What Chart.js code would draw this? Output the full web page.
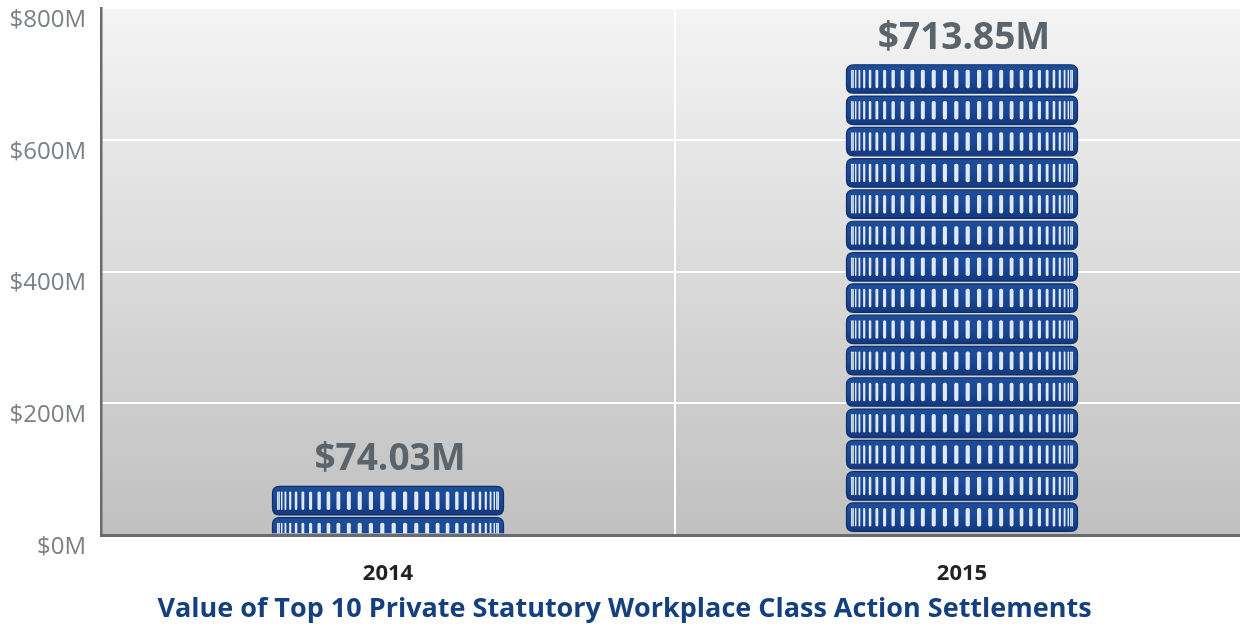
<!DOCTYPE html>
<html>
<head>
<meta charset="utf-8">
<script src="https://cdn.jsdelivr.net/npm/chart.js@4.4.1/dist/chart.umd.min.js"></script>
<style>
  html, body { margin: 0; padding: 0; background: #ffffff; overflow: hidden; }
  #wrap { position: relative; width: 1250px; height: 637px; }
</style>
</head>
<body>
<div id="wrap"><canvas id="c"></canvas></div>
<script>
const categories = ['2014', '2015'];
const settlementValues = [74.03, 713.85];
const valueLabels = ['$74.03M', '$713.85M'];
const yTickValues = [0, 200, 400, 600, 800];
const chartTitle = 'Value of Top 10 Private Statutory Workplace Class Action Settlements';

const backgroundPlugin = {
  id: 'bgGradient',
  beforeDraw(chart) {
    const { ctx, chartArea: a } = chart;
    const g = ctx.createLinearGradient(0, a.top, 0, a.bottom);
    g.addColorStop(0, '#f4f4f4');
    g.addColorStop(1, '#c0c0c0');
    ctx.save();
    ctx.fillStyle = g;
    ctx.fillRect(a.left, a.top, a.right - a.left, a.bottom - a.top);
    ctx.restore();
  }
};

function roundRect(ctx, x, y, w, h, r) {
  ctx.beginPath();
  ctx.moveTo(x + r, y);
  ctx.lineTo(x + w - r, y);
  ctx.quadraticCurveTo(x + w, y, x + w, y + r);
  ctx.lineTo(x + w, y + h - r);
  ctx.quadraticCurveTo(x + w, y + h, x + w - r, y + h);
  ctx.lineTo(x + r, y + h);
  ctx.quadraticCurveTo(x, y + h, x, y + h - r);
  ctx.lineTo(x, y + r);
  ctx.quadraticCurveTo(x, y, x + r, y);
  ctx.closePath();
}

const coinPlugin = {
  id: 'coins',
  afterDatasetsDraw(chart) {
    const { ctx } = chart;
    const meta = chart.getDatasetMeta(0);
    const period = 31.3, coinH = 28.5, nStripes = 30;
    meta.data.forEach((bar, idx) => {
      const w = bar.width;
      const left = bar.x - w / 2;
      const top = bar.y;
      const base = bar.base;
      ctx.save();
      ctx.beginPath();
      ctx.rect(left - 2, top - 2, w + 4, base - top + 1);
      ctx.clip();
      for (let cy = top; cy < base; cy += period) {
        roundRect(ctx, left, cy, w, coinH, 7);
        const g = ctx.createLinearGradient(0, cy, 0, cy + coinH);
        g.addColorStop(0, '#1d4c99');
        g.addColorStop(0.5, '#1a4894');
        g.addColorStop(1, '#12387e');
        ctx.fillStyle = g;
        ctx.fill();
        ctx.lineWidth = 1.2;
        ctx.strokeStyle = '#0f2f6c';
        ctx.stroke();
        const cx = bar.x;
        const R = w / 2 - 5;
        for (let j = 0; j < nStripes; j++) {
          const th = -1.5 + j * (3.0 / (nStripes - 1));
          const sx = cx + R * Math.sin(th);
          const sw = Math.max(1.4, 3.8 * Math.cos(th) + 0.4);
          roundRect(ctx, sx - sw / 2, cy + 5, sw, coinH - 10, Math.min(1.7, sw / 2));
          ctx.fillStyle = '#e1e9f6';
          ctx.fill();
        }
      }
      ctx.restore();
      ctx.save();
      ctx.font = 'bold 37px "Open Sans"';
      ctx.fillStyle = '#5b646b';
      ctx.textAlign = 'center';
      ctx.textBaseline = 'alphabetic';
      ctx.fillText(valueLabels[idx], bar.x + 2, top - 16);
      ctx.restore();
    });
  }
};

new Chart(document.getElementById('c'), {
  type: 'bar',
  data: {
    labels: categories,
    datasets: [{
      data: settlementValues,
      backgroundColor: 'rgba(0,0,0,0)',
      borderWidth: 0,
      barPercentage: 0.4025,
      categoryPercentage: 1
    }]
  },
  options: {
    responsive: true,
    maintainAspectRatio: false,
    animation: false,
    layout: { padding: { top: 0, right: 1, left: 0, bottom: 0 } },
    plugins: {
      legend: { display: false },
      tooltip: { enabled: false },
      title: {
        display: true,
        text: chartTitle,
        position: 'bottom',
        color: '#15407f',
        font: { family: '"Open Sans"', size: 27, weight: 'bold' },
        padding: { top: -18, bottom: 11 }
      }
    },
    scales: {
      x: {
        grid: { display: true, color: '#ffffff', lineWidth: 2, drawTicks: false, offset: true },
        border: { display: true, color: '#676c71', width: 3, z: 1 },
        ticks: {
          color: '#222222',
          padding: 25,
          font: { family: '"Open Sans"', size: 22, weight: 'bold' }
        }
      },
      y: {
        min: 0,
        max: 800,
        afterBuildTicks(scale) { scale.ticks = yTickValues.map(v => ({ value: v })); },
        afterFit(scale) {
          scale.width = 101;
          scale.paddingTop = 8;
          scale.paddingBottom = 0;
        },
        grid: { display: true, color: '#ffffff', lineWidth: 2, drawTicks: false },
        border: { display: true, color: '#676c71', width: 2.5 },
        ticks: {
          color: '#7b8187',
          padding: 15,
          labelOffset: 12,
          font: { family: '"Open Sans"', size: 24 },
          callback: (v) => '$' + v + 'M'
        }
      }
    }
  },
  plugins: [backgroundPlugin, coinPlugin]
});
</script>
</body>
</html>
